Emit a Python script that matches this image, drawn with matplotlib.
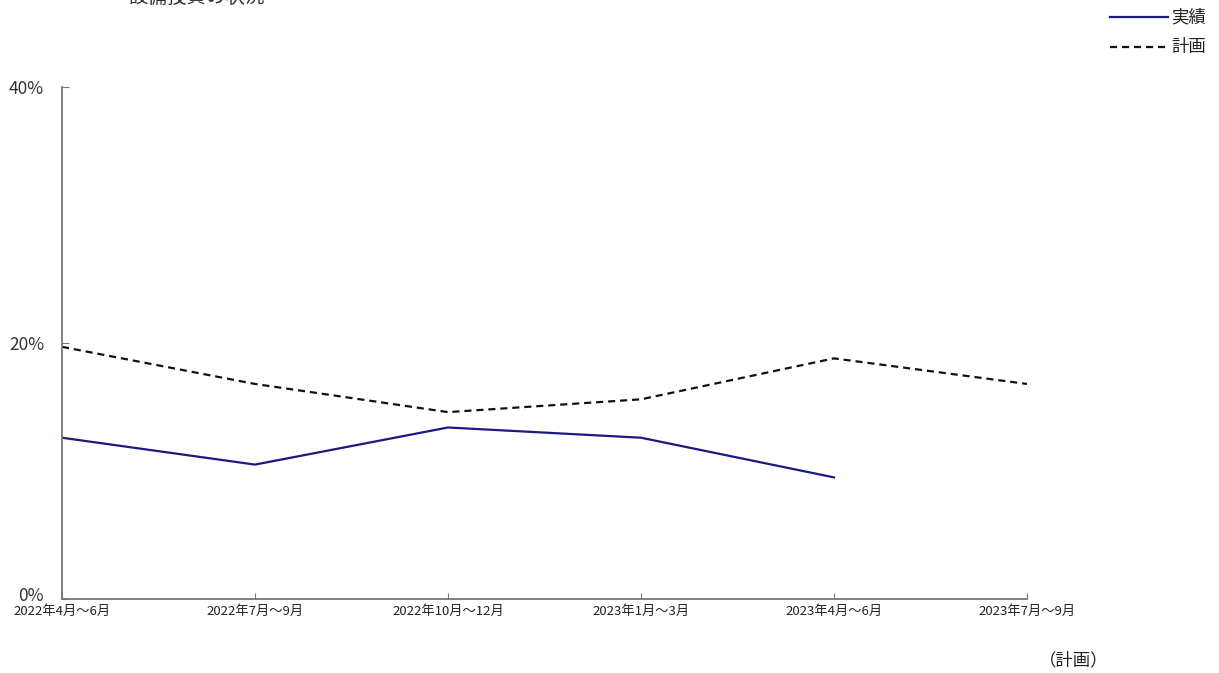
import matplotlib
matplotlib.use("Agg")
import matplotlib.pyplot as plt
from matplotlib.transforms import ScaledTranslation

plt.rcParams['font.family'] = ['Noto Sans CJK JP', 'DejaVu Sans']

periods = ["2022年4月～6月", "2022年7月～9月", "2022年10月～12月",
           "2023年1月～3月", "2023年4月～6月", "2023年7月～9月"]
actual = [12.6, 10.5, 13.4, 12.6, 9.5]
plan = [19.7, 16.8, 14.6, 15.6, 18.8, 16.8]
y_ticks = [0, 20, 40]
y_labels = ["0%", "20%", "40%"]

W, H = 1219, 673
fig = plt.figure(figsize=(W / 100, H / 100), dpi=100)
ax = fig.add_axes([62 / W, 1 - 599 / H, (1027 - 62) / W, (599 - 87) / H])

ax.plot(range(len(actual)), actual, color="#1a1a80", lw=1.6, solid_joinstyle="miter")
ax.plot(range(len(plan)), plan, color="#111111", lw=1.6, linestyle=(0, (3.2, 2.2)))

ax.set_xlim(0, len(periods) - 1)
ax.set_ylim(0, 40)
for s in ["top", "right"]:
    ax.spines[s].set_visible(False)
for s in ["left", "bottom"]:
    ax.spines[s].set_color("#777777")
    ax.spines[s].set_linewidth(1.3)

ax.set_xticks(range(len(periods)))
ax.set_xticklabels(periods, fontsize=9.5, color="#222222")
ax.tick_params(axis="x", direction="in", length=4, color="#777777", pad=4)
ax.set_yticks(y_ticks)
ax.set_yticklabels(y_labels, fontsize=12.5, color="#333333")
ax.tick_params(axis="y", direction="in", length=5, color="#777777", pad=13)
# lift the 0% label a little so it clears the first category label
zero_lbl = ax.get_yticklabels()[0]
zero_lbl.set_transform(zero_lbl.get_transform() + ScaledTranslation(0, 5 / 100, fig.dpi_scale_trans))

# title (partly above the canvas)
fig.text(197 / W, 1 + 3 / H, "設備投資の状況", ha="center", va="center",
         fontsize=14, color="#333333")

# legend
fig.add_artist(plt.Line2D([1110 / W, 1168 / W], [1 - 17 / H, 1 - 17 / H],
                          color="#1a1a80", lw=1.6))
fig.add_artist(plt.Line2D([1110 / W, 1168 / W], [1 - 47 / H, 1 - 47 / H],
                          color="#111111", lw=1.6, linestyle=(0, (3.2, 2.2))))
fig.text(1171 / W, 1 - 17 / H, "実績", ha="left", va="center", fontsize=12.5, color="#222222")
fig.text(1171 / W, 1 - 47 / H, "計画", ha="left", va="center", fontsize=12.5, color="#222222")

fig.text(1074 / W, 1 - 660 / H, "（計画）", ha="center", va="center",
         fontsize=12.5, color="#222222")

fig.savefig("out.png", dpi=100, facecolor="white")
